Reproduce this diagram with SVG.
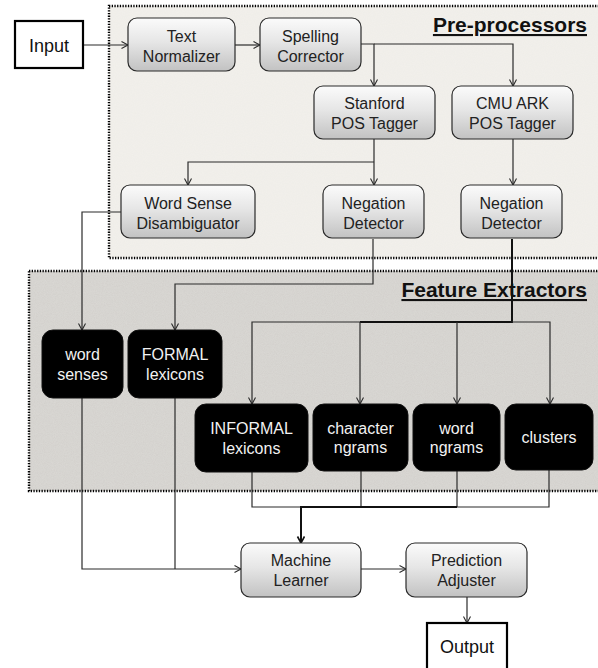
<svg xmlns="http://www.w3.org/2000/svg" width="598" height="668" viewBox="0 0 598 668">
  <style>
    .grp { stroke: #000; stroke-width: 2.4; stroke-dasharray: 1.3 1.4; }
    .gnode { fill: url(#gg); stroke: #2a2a2a; stroke-width: 1.2; }
    .bnode { fill: #000; stroke: #111; stroke-width: 1; }
    .plain { fill: #fff; stroke: #000; stroke-width: 2.2; }
    .t { font-family: "Liberation Sans", Arial, sans-serif; font-size: 16px; text-anchor: middle; fill: #222; }
    .tw { font-family: "Liberation Sans", Arial, sans-serif; font-size: 16px; text-anchor: middle; fill: #f2f2f2; }
    .tb { font-family: "Liberation Sans", Arial, sans-serif; font-size: 18px; text-anchor: middle; fill: #111; }
    .title { font-family: "Liberation Sans", Arial, sans-serif; font-size: 21px; font-weight: bold; fill: #111; text-decoration: underline; }
    .c { fill: none; stroke: #2b2b2b; stroke-width: 1.2; }
    .ck { fill: none; stroke: #111; stroke-width: 2; }
  </style>
  <defs>
    <linearGradient id="gg" x1="0" y1="0" x2="0" y2="1">
      <stop offset="0" stop-color="#fbfbfb"/>
      <stop offset="0.45" stop-color="#e6e6e6"/>
      <stop offset="1" stop-color="#c2c2c2"/>
    </linearGradient>
    <filter id="noise1" x="0" y="0" width="100%" height="100%">
      <feTurbulence type="fractalNoise" baseFrequency="0.9" numOctaves="2" seed="3" result="n"/>
      <feColorMatrix in="n" type="matrix" values="0 0 0 0 0.55  0 0 0 0 0.53  0 0 0 0 0.5  0 0 0 0.10 0" result="nc"/>
      <feComposite in="nc" in2="SourceGraphic" operator="in" result="nm"/>
      <feMerge><feMergeNode in="SourceGraphic"/><feMergeNode in="nm"/></feMerge>
    </filter>
    <filter id="noise2" x="0" y="0" width="100%" height="100%">
      <feTurbulence type="fractalNoise" baseFrequency="1.1" numOctaves="2" seed="7" result="n"/>
      <feColorMatrix in="n" type="matrix" values="0 0 0 0 0.4  0 0 0 0 0.39  0 0 0 0 0.37  0 0 0 0.22 0" result="nc"/>
      <feComposite in="nc" in2="SourceGraphic" operator="in" result="nm"/>
      <feMerge><feMergeNode in="SourceGraphic"/><feMergeNode in="nm"/></feMerge>
    </filter>
    <marker id="ar" markerWidth="10" markerHeight="10" refX="7" refY="4" orient="auto" markerUnits="userSpaceOnUse">
      <path d="M0.5,0.5 L7,4 L0.5,7.5" fill="none" stroke="#2b2b2b" stroke-width="1.1"/>
    </marker>
    <marker id="ark" markerWidth="10" markerHeight="10" refX="7" refY="4" orient="auto" markerUnits="userSpaceOnUse">
      <path d="M0.5,0.5 L7,4 L0.5,7.5" fill="none" stroke="#111" stroke-width="1.6"/>
    </marker>
  </defs>

  <rect width="598" height="668" fill="#fff"/>

  <g id="preprocessors">
    <rect x="109" y="6" width="500" height="252" fill="#f3f1ec" filter="url(#noise1)"/>
    <rect x="109" y="6" width="500" height="252" fill="none" class="grp"/>
    <text class="title" x="587" y="32" text-anchor="end">Pre-processors</text>
  </g>
  <g id="feature-extractors">
    <rect x="29" y="271" width="580" height="220" fill="#dbd9d5" filter="url(#noise2)"/>
    <rect x="29" y="271" width="580" height="220" fill="none" class="grp"/>
    <text class="title" x="587" y="297" text-anchor="end">Feature Extractors</text>
  </g>

  <g id="connectors">
    <path class="c" d="M83,45 H128" marker-end="url(#ar)"/>
    <path class="c" d="M235,45 H260" marker-end="url(#ar)"/>
    <path class="c" d="M361,44 H374 V86" marker-end="url(#ar)"/>
    <path class="c" d="M374,44 H513 V86" marker-end="url(#ar)"/>
    <path class="c" d="M374,139 V185" marker-end="url(#ar)"/>
    <path class="c" d="M374,162 H188 V185" marker-end="url(#ar)"/>
    <path class="c" d="M513,139 V185" marker-end="url(#ar)"/>
    <path class="c" d="M121,212 H82 V330" marker-end="url(#ar)"/>
    <path class="c" d="M373,239 V284 H175 V330" marker-end="url(#ar)"/>
    <path class="ck" d="M512,239 V322 H360"/>
    <path class="c" d="M360,322 H252 V404" marker-end="url(#ar)"/>
    <path class="c" d="M360,322 V404" marker-end="url(#ar)"/>
    <path class="c" d="M457,322 V404" marker-end="url(#ar)"/>
    <path class="c" d="M512,322 H550 V404" marker-end="url(#ar)"/>
    <path class="c" d="M252,472 V507 H301"/>
    <path class="c" d="M361,470 V507"/>
    <path class="c" d="M457,470 V507"/>
    <path class="c" d="M549,470 V507 H457"/>
    <path class="ck" d="M457,507 H301 V543" marker-end="url(#ark)"/>
    <path class="c" d="M82,398 V569 H241" marker-end="url(#ar)"/>
    <path class="c" d="M175,398 V569"/>
    <path class="c" d="M361,569 H406" marker-end="url(#ar)"/>
    <path class="c" d="M467,597 V623" marker-end="url(#ar)"/>
  </g>

  <g id="input">
    <rect class="plain" x="15" y="21" width="68" height="47"/>
    <text class="tb" x="49" y="52">Input</text>
  </g>
  <g id="text-normalizer">
    <rect class="gnode" x="128" y="18" width="107" height="53" rx="9"/>
    <text class="t" x="181.5" y="42">Text</text>
    <text class="t" x="181.5" y="62">Normalizer</text>
  </g>
  <g id="spelling-corrector">
    <rect class="gnode" x="260" y="18" width="101" height="53" rx="9"/>
    <text class="t" x="310.5" y="42">Spelling</text>
    <text class="t" x="310.5" y="62">Corrector</text>
  </g>
  <g id="stanford-pos">
    <rect class="gnode" x="314" y="86" width="121" height="53" rx="9"/>
    <text class="t" x="374.5" y="109">Stanford</text>
    <text class="t" x="374.5" y="129">POS Tagger</text>
  </g>
  <g id="cmu-ark-pos">
    <rect class="gnode" x="452" y="86" width="121" height="53" rx="9"/>
    <text class="t" x="512.5" y="109">CMU ARK</text>
    <text class="t" x="512.5" y="129">POS Tagger</text>
  </g>
  <g id="word-sense-disambiguator">
    <rect class="gnode" x="121" y="185" width="134" height="53" rx="9"/>
    <text class="t" x="188" y="209">Word Sense</text>
    <text class="t" x="188" y="229">Disambiguator</text>
  </g>
  <g id="negation-detector-1">
    <rect class="gnode" x="323" y="185" width="101" height="53" rx="9"/>
    <text class="t" x="373.5" y="209">Negation</text>
    <text class="t" x="373.5" y="229">Detector</text>
  </g>
  <g id="negation-detector-2">
    <rect class="gnode" x="461" y="185" width="101" height="53" rx="9"/>
    <text class="t" x="511.5" y="209">Negation</text>
    <text class="t" x="511.5" y="229">Detector</text>
  </g>

  <g id="word-senses">
    <rect class="bnode" x="42" y="330" width="81" height="68" rx="11"/>
    <text class="tw" x="82.5" y="360">word</text>
    <text class="tw" x="82.5" y="380">senses</text>
  </g>
  <g id="formal-lexicons">
    <rect class="bnode" x="128" y="330" width="94" height="68" rx="11"/>
    <text class="tw" x="175" y="360">FORMAL</text>
    <text class="tw" x="175" y="380">lexicons</text>
  </g>
  <g id="informal-lexicons">
    <rect class="bnode" x="195" y="404" width="113" height="68" rx="11"/>
    <text class="tw" x="251.5" y="434">INFORMAL</text>
    <text class="tw" x="251.5" y="454">lexicons</text>
  </g>
  <g id="character-ngrams">
    <rect class="bnode" x="313" y="404" width="95" height="67" rx="11"/>
    <text class="tw" x="360.5" y="434">character</text>
    <text class="tw" x="360.5" y="453">ngrams</text>
  </g>
  <g id="word-ngrams">
    <rect class="bnode" x="413" y="404" width="87" height="67" rx="11"/>
    <text class="tw" x="456.5" y="434">word</text>
    <text class="tw" x="456.5" y="453">ngrams</text>
  </g>
  <g id="clusters">
    <rect class="bnode" x="505" y="404" width="88" height="66" rx="11"/>
    <text class="tw" x="549" y="443">clusters</text>
  </g>

  <g id="machine-learner">
    <rect class="gnode" x="241" y="543" width="120" height="54" rx="9"/>
    <text class="t" x="301" y="566">Machine</text>
    <text class="t" x="301" y="586">Learner</text>
  </g>
  <g id="prediction-adjuster">
    <rect class="gnode" x="406" y="543" width="121" height="54" rx="9"/>
    <text class="t" x="466.5" y="566">Prediction</text>
    <text class="t" x="466.5" y="586">Adjuster</text>
  </g>
  <g id="output">
    <rect class="plain" x="427" y="623" width="80" height="50"/>
    <text class="tb" x="467" y="653">Output</text>
  </g>
</svg>
